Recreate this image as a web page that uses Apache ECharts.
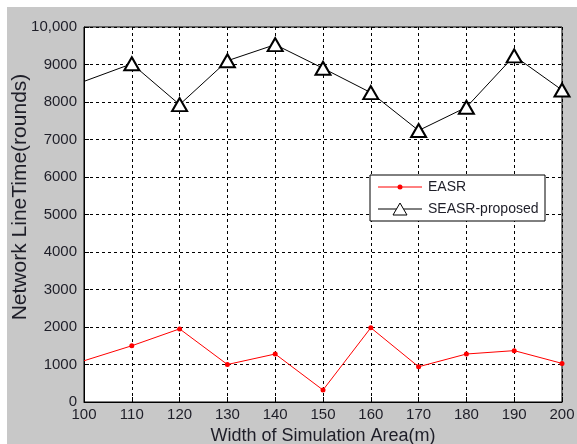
<!DOCTYPE html>
<html>
<head>
<meta charset="utf-8">
<script src="https://cdn.jsdelivr.net/npm/echarts@6/dist/echarts.min.js"></script>
<style>
  html, body { margin: 0; padding: 0; background: #fff; }
  #main { width: 577px; height: 444px; }
</style>
</head>
<body>
<div id="main"></div>
<script>
// simulation area width (m)
var widths = [100, 110, 120, 130, 140, 150, 160, 170, 180, 190, 200];
// network lifetime (rounds)
var easr = [1100, 1500, 1950, 1000, 1280, 320, 1980, 940, 1280, 1370, 1030];
var seasr = [8550, 9020, 7930, 9100, 9530, 8900, 8250, 7240, 7860, 9230, 8320];
var yTicks = [0, 1000, 2000, 3000, 4000, 5000, 6000, 7000, 8000, 9000, 10000];
var seriesNames = ["EASR", "SEASR-proposed"];

// the first point sits on the left border and shows no marker in the original
function pairs(xs, ys) {
  var out = [];
  for (var i = 0; i < xs.length; i++) {
    if (i === 0) out.push({ value: [xs[i], ys[i]], symbol: "none" });
    else out.push([xs[i], ys[i]]);
  }
  return out;
}

var chart = echarts.init(document.getElementById("main"));
var txt = "#1e1e28";
var font = "Liberation Sans, Arial, sans-serif";

// legend box drawn by hand so the marker sizes match the plot
var lx = 370, ly = 175;
var legendGfx = [
  { type: "rect", z: 100, shape: { x: lx, y: ly, width: 175, height: 46 }, style: { fill: "#fff", stroke: "#000", lineWidth: 1 } },
  { type: "line", z: 101, shape: { x1: lx + 8, y1: ly + 12, x2: lx + 52, y2: ly + 12 }, style: { stroke: "#ff0000", lineWidth: 1 } },
  { type: "circle", z: 102, shape: { cx: lx + 30, cy: ly + 12, r: 2.5 }, style: { fill: "#ff0000" } },
  { type: "text", z: 101, x: lx + 58, y: ly + 12, style: { text: seriesNames[0], fontSize: 14, fill: txt, fontFamily: font, verticalAlign: "middle" } },
  { type: "line", z: 101, shape: { x1: lx + 8, y1: ly + 34, x2: lx + 52, y2: ly + 34 }, style: { stroke: "#000", lineWidth: 1 } },
  { type: "polygon", z: 102, shape: { points: [[lx + 23, ly + 40], [lx + 37, ly + 40], [lx + 30, ly + 28]] }, style: { fill: "#fff", stroke: "#000", lineWidth: 1 } },
  { type: "text", z: 101, x: lx + 58, y: ly + 34, style: { text: seriesNames[1], fontSize: 14, fill: txt, fontFamily: font, verticalAlign: "middle" } }
];

chart.setOption({
  backgroundColor: "#c8c8c8",
  animation: false,
  textStyle: { fontFamily: font },
  graphic: [
    { type: "rect", shape: { x: 0, y: 0, width: 577, height: 7 }, style: { fill: "#fff" } },
    { type: "rect", shape: { x: 0, y: 0, width: 7, height: 444 }, style: { fill: "#fff" } },
    {
      type: "text", x: 20, y: 197, rotation: Math.PI / 2,
      style: { text: "Network LineTime(rounds)", fontSize: 21, fill: txt, fontFamily: font, align: "center", verticalAlign: "middle" }
    }
  ].concat(legendGfx),
  grid: {
    left: 84, right: 15, top: 27, bottom: 42,
    outerBoundsMode: "none",
    containLabel: false,
    show: true, backgroundColor: "#fff", borderColor: "#000", borderWidth: 1
  },
  xAxis: {
    type: "value",
    min: 100, max: 200, interval: 10,
    name: "Width of Simulation Area(m)",
    nameLocation: "middle",
    nameGap: 10,
    nameTextStyle: { fontSize: 18, color: txt },
    axisLine: { lineStyle: { color: "#000" } },
    axisTick: { inside: true, length: 5, lineStyle: { color: "#000" } },
    axisLabel: { fontSize: 15, color: txt, margin: 5 },
    splitLine: { show: true, lineStyle: { color: "#000", type: [3, 3] } }
  },
  yAxis: {
    type: "value",
    min: 0, max: 10000, interval: 1000,
    axisLine: { show: true, lineStyle: { color: "#000" } },
    axisTick: { show: true, inside: true, length: 5, lineStyle: { color: "#000" } },
    axisLabel: {
      fontSize: 15, color: txt, margin: 7,
      formatter: function (v) { return v === yTicks[yTicks.length - 1] ? "10,000" : String(v); }
    },
    splitLine: { show: true, lineStyle: { color: "#000", type: [3, 3] } }
  },
  series: [
    {
      name: seriesNames[0],
      type: "line",
      data: pairs(widths, easr),
      symbol: "circle",
      symbolSize: 5,
      lineStyle: { color: "#ff0000", width: 1 },
      itemStyle: { color: "#ff0000" }
    },
    {
      name: seriesNames[1],
      type: "line",
      data: pairs(widths, seasr),
      symbol: "emptyTriangle",
      symbolSize: [15, 13],
      lineStyle: { color: "#000", width: 1 },
      itemStyle: { color: "#000", borderColor: "#000", borderWidth: 1 }
    }
  ]
});
</script>
</body>
</html>
